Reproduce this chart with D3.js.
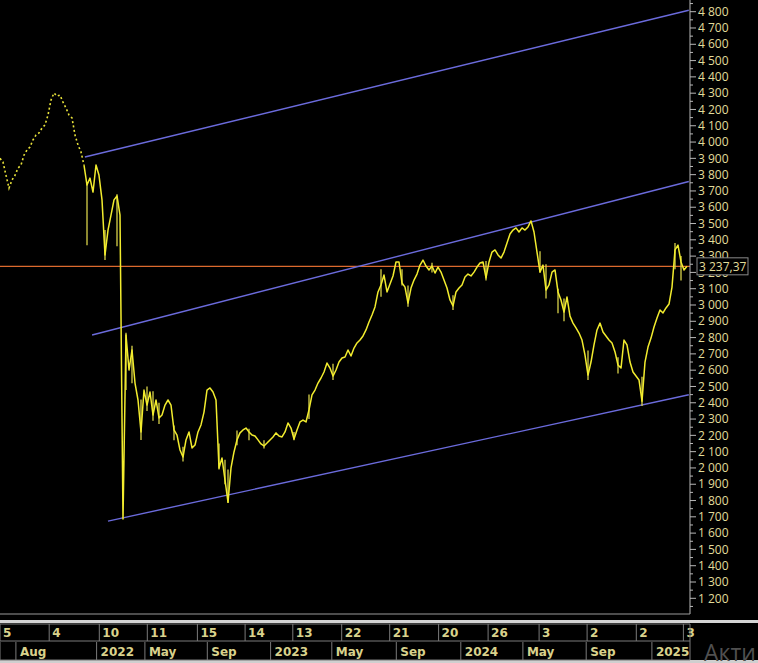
<!DOCTYPE html>
<html><head><meta charset="utf-8">
<script src="https://cdn.jsdelivr.net/npm/d3@7"></script>
<style>
html,body{margin:0;padding:0;background:#000;overflow:hidden}
svg{display:block}
</style></head>
<body>
<svg id="c" width="758" height="663"></svg>
<script>
// ---- data ----
const closes = [
3900,3877,3796,3717,3767,3796,3840,3859,3920,3951,3970,4013,4043,4056,4086,4105,4166,4258,4301,4282,
4288,4245,4209,4166,4148,4043,3982,3939,3859,3736,3779,3693,3859,3796,3645,3307,3460,3552,3645,3669,
3552,1686,2816,2601,2724,2521,2417,2221,2478,2386,2466,2325,2417,2307,2325,2386,2417,2386,2233,2202,
2110,2067,2172,2221,2123,2141,2221,2264,2343,2478,2491,2466,2417,2000,2061,1926,1790,2000,2098,2172,
2215,2233,2245,2221,2202,2196,2172,2147,2135,2153,2172,2190,2215,2196,2190,2221,2276,2245,2178,2233,
2282,2294,2282,2356,2448,2478,2521,2552,2589,2644,2613,2564,2601,2650,2675,2681,2724,2687,2736,2767,
2785,2810,2847,2896,2939,2988,3080,3123,3184,3080,3129,3178,3264,3264,3135,3110,3012,3104,3153,3190,
3245,3276,3239,3215,3239,3196,3233,3202,3153,3104,3031,2994,3080,3104,3123,3172,3190,3178,3202,3233,
3258,3264,3166,3264,3325,3338,3307,3288,3325,3380,3436,3460,3473,3448,3473,3460,3479,3516,3448,3325,
3202,3245,3092,3123,3202,3215,3080,3031,2957,3049,2932,2889,2859,2828,2785,2693,2570,2650,2755,2847,
2889,2834,2810,2785,2767,2712,2632,2613,2785,2755,2650,2589,2564,2540,2410,2650,2742,2797,2865,2920,
2969,2951,2982,3006,3110,3338,3368,3264,3215,3237.37
];
// intraday ranges visible as spikes: [barIndex, low, high]
const wicks = [
[29,3367,3750],[35,3276,3460],[39,3360,3680],[42,2478,2830],[44,2520,2750],[47,2172,2420],
[49,2350,2500],[51,2290,2470],[53,2270,2400],[58,2170,2260],[61,2040,2130],[73,1990,2150],
[75,1900,2050],[76,1785,1990],[79,2140,2230],[83,2170,2240],[88,2120,2170],[98,2170,2220],
[103,2300,2450],[111,2540,2640],[127,3050,3220],[134,3120,3220],[136,2990,3120],[144,3200,3260],
[151,2970,3060],[162,3150,3270],[180,3200,3330],[182,3040,3250],[186,2950,3100],[188,2900,3040],
[196,2540,2720],[206,2580,2680],[214,2380,2560],[225,3220,3380],[227,3150,3300]
];
const lastPrice = 3237.37;
const lastPriceLabel = "3 237,37";
const sparseEnd = 28; // early part of the history drawn sparsely (dotted) in the source

// channel lines: [barIndex, price] pairs
const channelUpper = [[28.3, 3908], [229.6, 4809]];
const channelMiddle = [[30.7, 2816], [229.6, 3758]];
const channelLower = [[36, 1674], [229.6, 2449]];

// price axis ticks
const priceTicks = d3.range(1200, 4801, 100);
const priceMinorTicks = d3.range(1150, 4851, 100);

// time axis: bar index of each tick, with labels
const dayTickIdx = [0, 16.4, 33.1, 49.1, 65.8, 81.7, 97.6, 113.9, 129.9, 146.2, 162.7, 179.7, 195.7, 212.1, 227.8];
const dayTickLabels = ["5","4","10","11","15","14","13","22","21","20","26","3","2","2","3"];
const monthTickIdx = [0, 5.3, 32.2, 48.3, 69.1, 90.2, 110.6, 132.1, 153.6, 174.3, 195.4, 217.3];
const monthTickLabels = ["", "Aug","2022","May","Sep","2023","May","Sep","2024","May","Sep","2025"];

// ---- layout ----
const W = 758, H = 663;
const plotR = 690, plotB = 614;
const svg = d3.select("#c");
svg.append("rect").attr("width", W).attr("height", H).attr("fill", "#000");

const x = d3.scaleLinear().domain([0, 229]).range([0, 687]);
const y = d3.scaleLinear().domain([1200, 4800]).range([598.3, 11.7]);

const plot = svg.append("g");
plot.append("defs").append("clipPath").attr("id","pc")
  .append("rect").attr("x",0).attr("y",0).attr("width",plotR).attr("height",plotB);
const pg = plot.append("g").attr("clip-path","url(#pc)");

// orange last-price line
pg.append("line")
  .attr("x1", 0).attr("x2", plotR)
  .attr("y1", y(lastPrice)).attr("y2", y(lastPrice))
  .attr("stroke", "#dc6a2e").attr("stroke-width", 1.2);

// channel lines
const chLine = d3.line().x(d => x(d[0])).y(d => y(d[1]));
[channelUpper, channelMiddle, channelLower].forEach(c => {
  pg.append("path").attr("d", chLine(c))
    .attr("fill","none").attr("stroke","#6b6bdc").attr("stroke-width",1.4);
});

// price series
const pts = closes.map((v,i)=>[i,v]);
const line = d3.line().x(d => x(d[0])).y(d => y(d[1]));
pg.append("path").attr("d", line(pts.slice(0, sparseEnd+1)))
  .attr("fill","none").attr("stroke","#e8e23a").attr("stroke-width",1.6)
  .attr("stroke-dasharray","2,2.5");
pg.selectAll("line.wick").data(wicks).join("line")
  .attr("x1",d=>x(d[0])).attr("x2",d=>x(d[0]))
  .attr("y1",d=>y(d[1])).attr("y2",d=>y(d[2]))
  .attr("stroke","#d8d24a").attr("stroke-width",1.3);
pg.append("path").attr("d", line(pts.slice(sparseEnd)))
  .attr("fill","none").attr("stroke","#f2ec2e").attr("stroke-width",1.5)
  .attr("stroke-linejoin","round");

// frame
svg.append("line").attr("x1",plotR).attr("x2",plotR).attr("y1",0).attr("y2",plotB)
  .attr("stroke","#b8b8b8").attr("stroke-width",1);
svg.append("line").attr("x1",0).attr("x2",plotR).attr("y1",plotB).attr("y2",plotB)
  .attr("stroke","#9a9a9a").attr("stroke-width",1);

// price axis
const ax = svg.append("g").attr("font-family","'Open Sans', sans-serif").attr("font-size",12);
ax.selectAll("line.maj").data(priceTicks).join("line")
  .attr("x1",plotR).attr("x2",plotR+6).attr("y1",d=>y(d)).attr("y2",d=>y(d))
  .attr("stroke","#b8b8b8");
ax.selectAll("line.min").data(priceMinorTicks).join("line")
  .attr("x1",plotR).attr("x2",plotR+3).attr("y1",d=>y(d)).attr("y2",d=>y(d))
  .attr("stroke","#b8b8b8");
const fmt = v => { const s = String(v); return s.slice(0, s.length-3) + " " + s.slice(-3); };
ax.selectAll("text.pt").data(priceTicks).join("text")
  .attr("x", plotR+8).attr("y", d=>y(d)).attr("dy","0.35em")
  .attr("fill","#e2dc9a").text(fmt);

// last price label box
const ly = y(lastPrice);
svg.append("rect").attr("x",697).attr("y",ly-8.5).attr("width",51).attr("height",17)
  .attr("fill","#000").attr("stroke","#8a8a8a").attr("stroke-width",1);
svg.append("text").attr("x",699).attr("y",ly).attr("dy","0.35em")
  .attr("font-family","'Open Sans', sans-serif").attr("font-size",12)
  .attr("fill","#e2dc9a").text(lastPriceLabel);

// bottom time axis strips
svg.append("rect").attr("x",0).attr("y",620).attr("width",W).attr("height",3).attr("fill","#d4d4d4");
svg.append("rect").attr("x",0).attr("y",660).attr("width",W).attr("height",3).attr("fill","#cfcfcf");
const row1Top = 624, row1H = 17, row2Top = 642, row2H = 18;
const tg = svg.append("g").attr("font-family","Tahoma, 'DejaVu Sans', sans-serif").attr("font-size",12).attr("font-weight","bold");
svg.append("line").attr("x1",0).attr("x2",plotR).attr("y1",row1Top+row1H).attr("y2",row1Top+row1H).attr("stroke","#7a7a7a");
svg.append("line").attr("x1",0).attr("x2",plotR).attr("y1",row1Top).attr("y2",row1Top).attr("stroke","#7a7a7a");
svg.append("line").attr("x1",0).attr("x2",plotR).attr("y1",row2Top+row2H).attr("y2",row2Top+row2H).attr("stroke","#7a7a7a");
tg.selectAll("line.d").data(dayTickIdx).join("line")
  .attr("x1",d=>x(d)).attr("x2",d=>x(d)).attr("y1",row1Top).attr("y2",row1Top+row1H)
  .attr("stroke","#7a7a7a");
tg.selectAll("text.d").data(dayTickIdx).join("text")
  .attr("x",d=>x(d)+3).attr("y",row1Top+13).attr("fill","#d9d28c").text((d,i)=>dayTickLabels[i]);
tg.selectAll("line.m").data(monthTickIdx).join("line")
  .attr("x1",d=>x(d)).attr("x2",d=>x(d)).attr("y1",row2Top).attr("y2",row2Top+row2H)
  .attr("stroke","#7a7a7a");
tg.selectAll("text.m").data(monthTickIdx).join("text")
  .attr("x",d=>x(d)+4).attr("y",row2Top+14).attr("fill","#d9d28c").text((d,i)=>monthTickLabels[i]);
svg.append("line").attr("x1",plotR).attr("x2",plotR).attr("y1",row1Top).attr("y2",row2Top+row2H).attr("stroke","#7a7a7a");

// watermark
svg.append("text").attr("x",704).attr("y",661).attr("font-family","'Open Sans', sans-serif")
  .attr("font-size",23).attr("fill","#505050").text("Акти");
</script>
</body></html>
